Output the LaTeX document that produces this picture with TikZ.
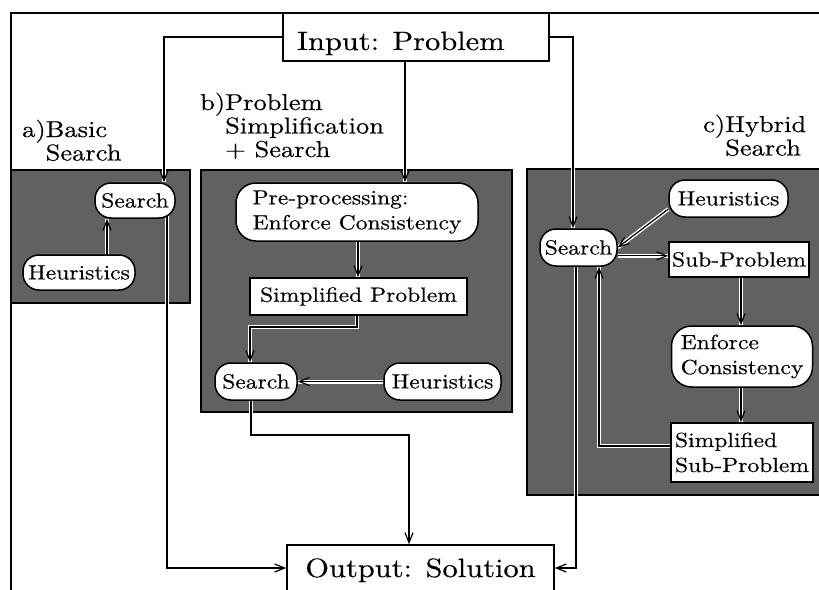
\documentclass[tikz,border=0pt]{standalone}
\usepackage{fontspec}
\setmainfont{lmroman10-regular}[Extension=.otf,FakeStretch=1.15,FakeBold=0.4]
\usetikzlibrary{arrows.meta}
\pgfdeclarelayer{panel}
\pgfdeclarelayer{wires}
\pgfsetlayers{panel,wires,main}
\begin{document}
\begin{tikzpicture}[x=1pt,y=-1pt,
  big/.style={font=\fontsize{26.5}{30}\selectfont},
  head/.style={font=\fontsize{23}{23.5}\selectfont, inner sep=0pt, anchor=base west},
  txt/.style={font=\fontsize{20.5}{25}\selectfont},
  pill/.style={txt, draw, fill=white, line width=1.5pt, rounded corners=16pt, inner sep=0pt, align=left},
  boxr/.style={txt, draw, fill=white, line width=1.5pt, inner sep=0pt, align=left},
  panelbox/.style={draw, fill=black!62, line width=1.5pt},
  wire/.style={line width=1.2pt, preaction={draw=white, line width=4pt, -}, -{Straight Barb[length=10pt,width=8pt]}},
]
\useasboundingbox (0,0) rectangle (819,589);

% nodes
\node[boxr, big, inner xsep=14pt, text width=238pt, minimum height=48pt, text height=26pt, text depth=0pt] (inp) at (416,37) {Input: Problem};
\node[boxr, big, minimum width=267pt, minimum height=56pt, text height=19pt, text depth=11pt] (out) at (420.5,573) {Output: Solution};

\node[head] (ha) at (22,137) {a)\begin{tabular}[t]{@{}l@{}}Basic\\Search\end{tabular}};
\node[head] (hb) at (200,110) {b)\begin{tabular}[t]{@{}l@{}}Problem\\Simplification\\+ Search\end{tabular}};
\node[head] (hc) at (703,132) {c)\begin{tabular}[t]{@{}l@{}}Hybrid\\Search\end{tabular}};

\node[pill, minimum width=80pt, minimum height=35pt] (aS) at (135,200.5) {Search};
\node[pill, minimum width=112pt, minimum height=35pt] (aH) at (79,272.5) {Heuristics};

\node[pill, minimum width=242pt, minimum height=58pt, rounded corners=20pt] (bP) at (357,212) {Pre-processing:\\Enforce Consistency};
\node[boxr, minimum width=217pt, minimum height=37pt] (bSP) at (358.5,296.5) {Simplified Problem};
\node[pill, minimum width=82pt, minimum height=37pt] (bS) at (256,381.5) {Search};
\node[pill, minimum width=117pt, minimum height=37pt] (bH) at (442.5,381.5) {Heuristics};

\node[pill, minimum width=77pt, minimum height=37pt] (cS) at (578.5,247.5) {Search};
\node[pill, minimum width=119pt, minimum height=37pt] (cH) at (728.5,198.5) {Heuristics};
\node[boxr, minimum width=140pt, minimum height=35pt] (cSub) at (739,259.5) {Sub-Problem};
\node[pill, minimum width=141pt, minimum height=61pt, rounded corners=20pt] (cE) at (742,356.5) {Enforce\\Consistency};
\node[boxr, minimum width=142pt, minimum height=59pt] (cSS) at (742,452.5) {Simplified\\Sub-Problem};

% panels
\begin{pgfonlayer}{panel}
\draw[panelbox] (11,170) rectangle (190,303);
\draw[panelbox] (201,170) rectangle (512,412);
\draw[panelbox] (527,169) rectangle (830,495);
\end{pgfonlayer}

% connectors
\begin{pgfonlayer}{wires}
\draw[line width=2pt] (11,600) -- (11,13) -- (830,13);
\coordinate (a1) at (164,37);
\coordinate (a2) at (167,568);
\coordinate (ax) at (107,0);
\draw[wire] (inp.west) -- (a1) -- (aS.north -| a1);
\draw[wire] (aH.north -| ax) -- (aS.south -| ax);
\draw[wire] (aS.center -| a2) -- (a2) -- (out.west |- a2);

\coordinate (b1) at (405,0);
\coordinate (b2) at (358,0);
\coordinate (b3) at (357,327);
\coordinate (b4) at (250,327);
\coordinate (b5) at (251,435);
\coordinate (b6) at (409,435);
\draw[wire] (inp.south -| b1) -- (bP.north -| b1);
\draw[wire] (bP.south -| b2) -- (bSP.north -| b2);
\draw[wire] (bSP.south -| b3) -- (b3) -- (b4) -- (bS.north -| b4);
\draw[wire] (bH.west) -- (bS.east);
\draw[wire] (bS.center -| b5) -- (b5) -- (b6) -- (out.north -| b6);

\coordinate (c1) at (573,37);
\coordinate (c2) at (576,568);
\coordinate (c3) at (741,0);
\coordinate (c4) at (599,446);
\draw[wire] (inp.east) -- (c1) -- (cS.north -| c1);
\draw[wire] (cH.190) -- (cS.east);
\draw[wire] (cS.-12) -- (cS.-12 -| cSub.west);
\draw[wire] (cSub.south -| c3) -- (cE.north -| c3);
\draw[wire] (cE.south -| c3) -- (cSS.north -| c3);
\draw[wire] (cSS.west |- c4) -- (c4) -- (cS.south -| c4);
\draw[wire] (cS.center -| c2) -- (c2) -- (out.east |- c2);
\end{pgfonlayer}
\end{tikzpicture}
\end{document}
